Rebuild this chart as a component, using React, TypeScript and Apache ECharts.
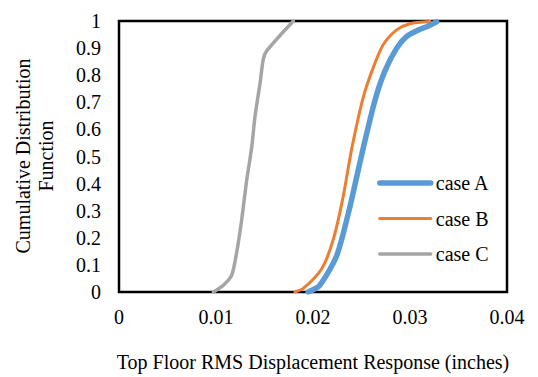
import React, { useEffect, useRef } from "react";
import * as echarts from "echarts";

const xTicks = [0, 0.01, 0.02, 0.03, 0.04];
const yTicks = [0, 0.1, 0.2, 0.3, 0.4, 0.5, 0.6, 0.7, 0.8, 0.9, 1];

const caseAX = [0.0195, 0.0207, 0.02244, 0.02364, 0.0245, 0.02519, 0.02639, 0.02742, 0.02863, 0.02966, 0.03086, 0.03172, 0.03275];
const caseAY = [0, 0.025, 0.134, 0.29, 0.424, 0.533, 0.708, 0.816, 0.9, 0.943, 0.967, 0.979, 0.997];

const caseBX = [0.01814, 0.019, 0.0209, 0.0221, 0.0231, 0.024, 0.02519, 0.02622, 0.02725, 0.02863, 0.03, 0.03206];
const caseBY = [0, 0.013, 0.086, 0.195, 0.35, 0.53, 0.72, 0.829, 0.913, 0.967, 0.99, 0.998];

const caseCX = [0.00973, 0.01076, 0.01162, 0.01213, 0.01265, 0.01316, 0.01368, 0.01402, 0.01454, 0.01488, 0.01523, 0.01797];
const caseCY = [0, 0.025, 0.062, 0.146, 0.267, 0.412, 0.533, 0.648, 0.77, 0.86, 0.89, 1];

const seriesNames = ["case A", "case B", "case C"];
const colors = ["#5B9BD5", "#ED7D31", "#A5A5A5"];
const widths = [5.5, 3, 3.5];

const zip = (xs: number[], ys: number[]) => xs.map((x, i) => [x, ys[i]]);

export default function App() {
  const ref = useRef<HTMLDivElement>(null);
  useEffect(() => {
    if (!ref.current) return;
    const chart = echarts.init(ref.current, undefined, { renderer: "svg" });
    const font = "Liberation Serif";
    const data = [zip(caseAX, caseAY), zip(caseBX, caseBY), zip(caseCX, caseCY)];
    chart.setOption({
      animation: false,
      backgroundColor: "#fff",
      textStyle: { fontFamily: font },
      grid: {
        left: 119,
        right: 31,
        top: 21,
        bottom: 80,
        show: true,
        borderColor: "#000",
        borderWidth: 2.5,
      },
      xAxis: {
        type: "value",
        min: xTicks[0],
        max: xTicks[xTicks.length - 1],
        interval: 0.01,
        axisLine: { show: false },
        axisTick: { show: false },
        splitLine: { show: false },
        axisLabel: {
          margin: 15,
          color: "#000",
          fontFamily: font,
          fontSize: 20,
          formatter: (v: number) => String(+v.toFixed(2)),
        },
        name: "Top Floor RMS Displacement Response (inches)",
        nameLocation: "middle",
        nameGap: 60,
        nameTextStyle: { color: "#000", fontFamily: font, fontSize: 20 },
      },
      yAxis: {
        type: "value",
        min: yTicks[0],
        max: yTicks[yTicks.length - 1],
        interval: 0.1,
        axisLine: { show: false },
        axisTick: { show: false },
        splitLine: { show: false },
        axisLabel: {
          margin: 18,
          color: "#000",
          fontFamily: font,
          fontSize: 20,
          formatter: (v: number) => String(+v.toFixed(1)),
        },
      },
      legend: {
        orient: "vertical",
        left: 377,
        top: 173,
        padding: 0,
        itemWidth: 51,
        itemHeight: 20,
        itemGap: 15.5,
        itemStyle: { opacity: 0 },
        textStyle: { color: "#000", fontFamily: font, fontSize: 20 },
        data: seriesNames.map((name, i) => ({
          name,
          lineStyle: { color: colors[i], width: widths[i], cap: "round" },
        })),
      },
      graphic: [
        {
          type: "text",
          x: 34,
          y: 156,
          rotation: Math.PI / 2,
          style: {
            text: "Cumulative Distribution\nFunction",
            fontFamily: font,
            fontSize: 20,
            lineHeight: 23,
            fill: "#000",
            align: "center",
            verticalAlign: "middle",
          },
        },
      ],
      series: seriesNames.map((name, i) => ({
        name,
        type: "line",
        data: data[i],
        symbol: "none",
        smooth: 0.25,
        color: colors[i],
        lineStyle: { color: colors[i], width: widths[i], cap: "round", join: "round" },
        z: 3 - i,
      })),
    });
    return () => chart.dispose();
  }, []);
  return <div ref={ref} style={{ width: 538, height: 377, position: "absolute", left: 0, top: 0 }} />;
}
